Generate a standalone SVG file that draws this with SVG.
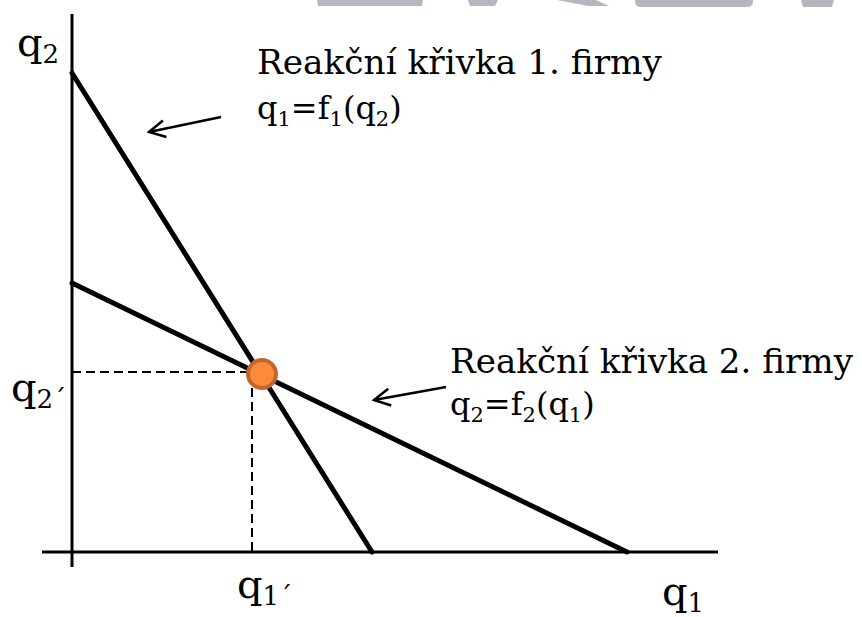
<svg xmlns="http://www.w3.org/2000/svg" width="862" height="617" viewBox="0 0 862 617">
<style>
.t{font-family:"DejaVu Serif","Liberation Serif",serif;fill:#000}
.title{font-size:34px}
.f{font-size:32px}
.ax{font-size:40px}
.axis{stroke:#000;stroke-width:3;fill:none}
.curve{stroke:#000;stroke-width:5;fill:none;stroke-linecap:round}
.dash{stroke:#000;stroke-width:2;stroke-dasharray:9 5;fill:none}
.arr{stroke:#000;stroke-width:2.5;fill:none}
.wm{fill:#b4b7be}
</style>
<defs>
<marker id="open" viewBox="0 0 20 20" refX="18" refY="10" markerWidth="20" markerHeight="20" markerUnits="userSpaceOnUse" orient="auto">
<path d="M2,1.5 L18,10 L2,18.5" fill="none" stroke="#000" stroke-width="2.5"/>
</marker>
</defs>
<rect width="862" height="617" fill="#fff"/>
<g id="watermark">
<polygon class="wm" points="317,0 423,0 422,6 318,6"/>
<polygon class="wm" points="468,0 498,0 495,6 470,6"/>
<polygon class="wm" points="557,0 596,0 609,6 588,6"/>
<path class="wm" d="M635,0 H753 V1 Q753,7 747,7 H641 Q635,7 635,1 Z"/>
<polygon class="wm" points="801,0 834,0 832,7 803,7"/>
</g>
<g id="axes">
<line class="axis" x1="72" y1="14" x2="72" y2="567"/>
<line class="axis" x1="42" y1="552" x2="718" y2="552"/>
</g>
<g id="connectors">
<line class="dash" x1="72" y1="372" x2="250" y2="372"/>
<line class="dash" x1="252" y1="388" x2="252" y2="552"/>
<line class="arr" x1="221" y1="117" x2="149" y2="132" marker-end="url(#open)"/>
<line class="arr" x1="446" y1="387" x2="374" y2="400" marker-end="url(#open)"/>
</g>
<g id="curve1">
<line class="curve" x1="72" y1="73" x2="372" y2="552"/>
</g>
<g id="curve2">
<line class="curve" x1="72" y1="283" x2="627" y2="552"/>
</g>
<g id="equilibrium">
<circle cx="262" cy="374" r="14" fill="#fd8b3c" stroke="#c0672f" stroke-width="4"/>
</g>
<g id="label-curve1">
<text class="t title" x="257" y="74" textLength="405" lengthAdjust="spacingAndGlyphs">Reakční křivka 1. firmy</text>
<text class="t f" x="257" y="119">q<tspan font-size="21" dy="7">1</tspan><tspan dy="-7">=f</tspan><tspan font-size="21" dy="7">1</tspan><tspan dy="-7">(q</tspan><tspan font-size="21" dy="7">2</tspan><tspan dy="-7">)</tspan></text>
</g>
<g id="label-curve2">
<text class="t title" x="450" y="373" textLength="403" lengthAdjust="spacingAndGlyphs">Reakční křivka 2. firmy</text>
<text class="t f" x="450" y="415">q<tspan font-size="21" dy="7">2</tspan><tspan dy="-7">=f</tspan><tspan font-size="21" dy="7">2</tspan><tspan dy="-7">(q</tspan><tspan font-size="21" dy="7">1</tspan><tspan dy="-7">)</tspan></text>
</g>
<g id="axis-labels">
<text class="t ax" x="17" y="56">q<tspan font-size="26" dy="7">2</tspan></text>
<text class="t ax" x="11" y="401">q<tspan font-size="26" dy="7">2´</tspan></text>
<text class="t ax" x="237" y="598">q<tspan font-size="26" dy="7">1´</tspan></text>
<text class="t ax" x="662" y="605">q<tspan font-size="26" dy="7">1</tspan></text>
</g>
</svg>
